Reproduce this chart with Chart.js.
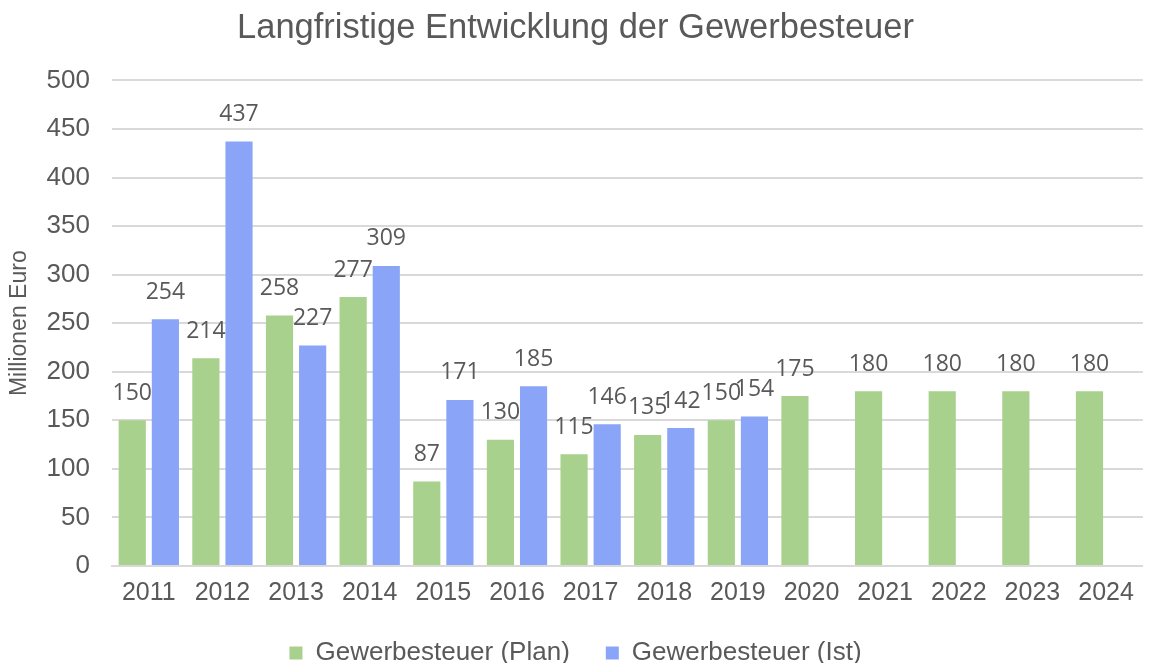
<!DOCTYPE html>
<html>
<head>
<meta charset="utf-8">
<script src="https://cdn.jsdelivr.net/npm/chart.js@4"></script>
<style>
  html, body { margin: 0; padding: 0; background: #fff; }
  #wrap { width: 1149px; height: 663px; }
</style>
</head>
<body>
<div id="wrap"><canvas id="chart" width="1149" height="663"></canvas></div>
<script>
const jahre = ["2011", "2012", "2013", "2014", "2015", "2016", "2017", "2018", "2019", "2020", "2021", "2022", "2023", "2024"];
const planWerte = [150, 214, 258, 277, 87, 130, 115, 135, 150, 175, 180, 180, 180, 180];
const istWerte = [254, 437, 227, 309, 171, 185, 146, 142, 154, null, null, null, null, null];

const textFarbe = "#595959";
const schrift = "'Liberation Sans', Arial";

// Werte ueber den Balken zeichnen
const wertLabels = {
    id: "wertLabels",
    afterDatasetsDraw(chart) {
        const ctx = chart.ctx;
        ctx.save();
        ctx.font = "23px 'Open Sans'";
        ctx.fillStyle = textFarbe;
        ctx.textAlign = "center";
        ctx.textBaseline = "middle";
        chart.data.datasets.forEach((ds, i) => {
            chart.getDatasetMeta(i).data.forEach((bar, j) => {
                const v = ds.data[j];
                if (v == null) return;
                ctx.fillText(String(v), bar.x, bar.y - 27);
            });
        });
        ctx.restore();
    }
};

new Chart(document.getElementById("chart").getContext("2d"), {
    type: "bar",
    data: {
        labels: jahre,
        datasets: [
            {
                label: "Gewerbesteuer (Plan)",
                data: planWerte,
                backgroundColor: "#a9d18e",
                categoryPercentage: 0.9,
                barPercentage: 0.82
            },
            {
                label: "Gewerbesteuer (Ist)",
                data: istWerte,
                backgroundColor: "#8aa5f8",
                categoryPercentage: 0.9,
                barPercentage: 0.82
            }
        ]
    },
    options: {
        responsive: false,
        animation: false,
        layout: { padding: { left: 6, right: 4, top: 0, bottom: -13 } },
        plugins: {
            title: {
                display: true,
                text: "Langfristige Entwicklung der Gewerbesteuer",
                color: textFarbe,
                font: { family: schrift, size: 34.5, weight: "normal" },
                padding: { top: 8, bottom: 31 }
            },
            legend: {
                position: "bottom",
                labels: {
                    color: textFarbe,
                    font: { family: schrift, size: 26 },
                    boxWidth: 13,
                    boxHeight: 13,
                    padding: 36
                }
            },
            tooltip: { enabled: false }
        },
        scales: {
            x: {
                afterFit(scale) {
                    scale.height = 38;
                },
                grid: { display: false, drawTicks: false },
                border: { color: "#d9d9d9", width: 2 },
                ticks: {
                    color: textFarbe,
                    font: { family: schrift, size: 25, lineHeight: 1 },
                    padding: 15,
                    maxRotation: 0
                }
            },
            y: {
                min: 0,
                max: 500,
                afterFit(scale) {
                    scale.width = 106;
                },
                ticks: {
                    stepSize: 50,
                    color: textFarbe,
                    font: { family: schrift, size: 26 },
                    padding: 22
                },
                grid: { color: "#d9d9d9", lineWidth: 2, drawTicks: false },
                border: { display: false },
                title: {
                    display: true,
                    text: "Millionen Euro",
                    color: textFarbe,
                    font: { family: schrift, size: 23 },
                    padding: 0
                }
            }
        }
    },
    plugins: [wertLabels]
});
</script>
</body>
</html>
